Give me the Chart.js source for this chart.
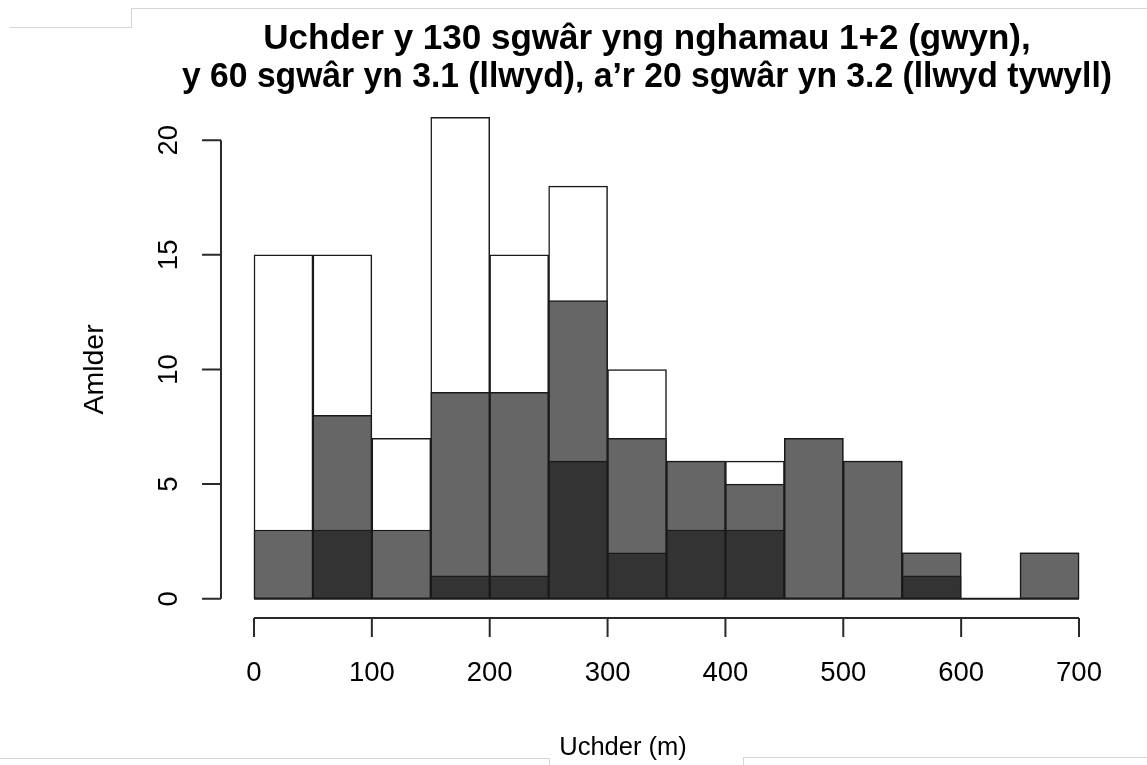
<!DOCTYPE html>
<html>
<head>
<meta charset="utf-8">
<title>Uchder</title>
<script src="https://cdn.jsdelivr.net/npm/chart.js@4.4.0/dist/chart.umd.min.js"></script>
<style>
  body { margin: 0; background: #fff; }
  #wrap { position: relative; width: 1147px; height: 765px; }
  .edge { position: absolute; background: #d6d6d6; }
</style>
</head>
<body>
<div id="wrap">
  <canvas id="histo" width="1147" height="765"></canvas>
  <!-- ymylon llwyd golau o'r llun gwreiddiol -->
  <div class="edge" style="left:10px;top:27px;width:121px;height:1px"></div>
  <div class="edge" style="left:131px;top:8px;width:1px;height:20px"></div>
  <div class="edge" style="left:131px;top:8px;width:1016px;height:1px"></div>
  <div class="edge" style="left:0;top:758px;width:550px;height:1px"></div>
  <div class="edge" style="left:549px;top:758px;width:1px;height:7px"></div>
  <div class="edge" style="left:743px;top:757px;width:404px;height:1px"></div>
  <div class="edge" style="left:743px;top:757px;width:1px;height:8px"></div>
</div>
<script>
// canol pob bin (lled 50 m)
const binMids = [25, 75, 125, 175, 225, 275, 325, 375, 425, 475, 525, 575, 625, 675];
// nifer y sgwariau ym mhob bin
const countsAll  = [15, 15, 7, 21, 15, 18, 10, 6, 6, 7, 6, 2, 0, 2];   // camau 1+2 (gwyn)
const countsGrey = [3, 8, 3, 9, 9, 13, 7, 6, 5, 7, 6, 2, 0, 2];        // 3.1 (llwyd)
const countsDark = [0, 3, 0, 1, 1, 6, 2, 3, 3, 0, 0, 1, 0, 0];         // 3.2 (llwyd tywyll)
const xTicks = [0, 100, 200, 300, 400, 500, 600, 700];
const yTicks = [0, 5, 10, 15, 20];

const fontFamily = '"Liberation Sans", Arial, Helvetica, sans-serif';
const lineCol = '#1a1a1a';

// echelinau ar wahân, fel yn R
const rAxes = {
    id: 'rAxes',
    afterDraw(chart) {
        const { ctx, chartArea, scales: { x, y } } = chart;
        const xa = chartArea.bottom;
        const ya = chartArea.left;
        ctx.save();
        ctx.strokeStyle = '#2a2a2a';
        ctx.lineWidth = 2;
        ctx.beginPath();
        ctx.moveTo(x.getPixelForValue(xTicks[0]), xa);
        ctx.lineTo(x.getPixelForValue(xTicks[xTicks.length - 1]), xa);
        xTicks.forEach(v => {
            const px = x.getPixelForValue(v);
            ctx.moveTo(px, xa);
            ctx.lineTo(px, xa + 19);
        });
        ctx.moveTo(ya, y.getPixelForValue(yTicks[0]));
        ctx.lineTo(ya, y.getPixelForValue(yTicks[yTicks.length - 1]));
        yTicks.forEach(v => {
            const py = y.getPixelForValue(v);
            ctx.moveTo(ya, py);
            ctx.lineTo(ya - 19, py);
        });
        ctx.stroke();

        ctx.fillStyle = '#000';
        ctx.font = '27.5px ' + fontFamily;
        ctx.textAlign = 'center';
        ctx.textBaseline = 'alphabetic';
        xTicks.forEach(v => ctx.fillText(String(v), x.getPixelForValue(v), xa + 63));
        yTicks.forEach(v => {
            ctx.save();
            ctx.translate(ya - 44, y.getPixelForValue(v));
            ctx.rotate(-Math.PI / 2);
            ctx.fillText(String(v), 0, 0);
            ctx.restore();
        });

        // teitlau'r echelinau
        ctx.font = '25.5px ' + fontFamily;
        ctx.fillText('Uchder (m)', 623, 755);
        ctx.save();
        ctx.font = '28.5px ' + fontFamily;
        ctx.translate(103, (y.getPixelForValue(yTicks[0]) + y.getPixelForValue(yTicks[yTicks.length - 1])) / 2);
        ctx.rotate(-Math.PI / 2);
        ctx.fillText('Amlder', 0, 0);
        ctx.restore();
        ctx.restore();
    }
};

const barStyle = {
    type: 'bar',
    grouped: false,
    barPercentage: 1,
    categoryPercentage: 1,
    borderSkipped: false,
    borderWidth: 1.5,
    borderColor: lineCol
};

new Chart(document.getElementById('histo'), {
    type: 'bar',
    data: {
        datasets: [
            { ...barStyle, label: '3.2', data: binMids.map((m, i) => ({ x: m, y: countsDark[i] })), backgroundColor: '#333333' },
            { ...barStyle, label: '3.1', data: binMids.map((m, i) => ({ x: m, y: countsGrey[i] })), backgroundColor: '#666666' },
            { ...barStyle, label: '1+2', data: binMids.map((m, i) => ({ x: m, y: countsAll[i] })), backgroundColor: '#ffffff' },
            {
                type: 'line',
                label: 'sylfaen',
                data: [{ x: xTicks[0], y: 0 }, { x: xTicks[xTicks.length - 1], y: 0 }],
                borderColor: lineCol,
                borderWidth: 2,
                pointRadius: 0
            }
        ]
    },
    options: {
        responsive: false,
        animation: false,
        layout: { padding: { left: 182, right: 35, top: 0, bottom: 0 } },
        plugins: {
            legend: { display: false },
            tooltip: { enabled: false },
            title: {
                display: true,
                text: ['Uchder y 130 sgwâr yng nghamau 1+2 (gwyn),',
                       'y 60 sgwâr yn 3.1 (llwyd), a’r 20 sgwâr yn 3.2 (llwyd tywyll)'],
                color: '#000',
                font: { family: fontFamily, size: 35, weight: 'bold', lineHeight: 1.086 },
                padding: { top: 20, bottom: 2 }
            }
        },
        scales: {
            x: {
                type: 'linear',
                offset: false,
                min: -28,
                max: 728,
                ticks: { display: false },
                grid: { display: false, offset: false },
                border: { display: false },
                afterBuildTicks: s => { s.ticks = xTicks.map(v => ({ value: v })); },
                afterFit: s => { s.height = 147; }
            },
            y: {
                type: 'linear',
                min: -0.84,
                max: 21.84,
                ticks: { display: false },
                grid: { display: false },
                border: { display: false },
                afterBuildTicks: s => { s.ticks = yTicks.map(v => ({ value: v })); },
                afterFit: s => { s.width = 39; }
            }
        }
    },
    plugins: [rAxes]
});
</script>
</body>
</html>
